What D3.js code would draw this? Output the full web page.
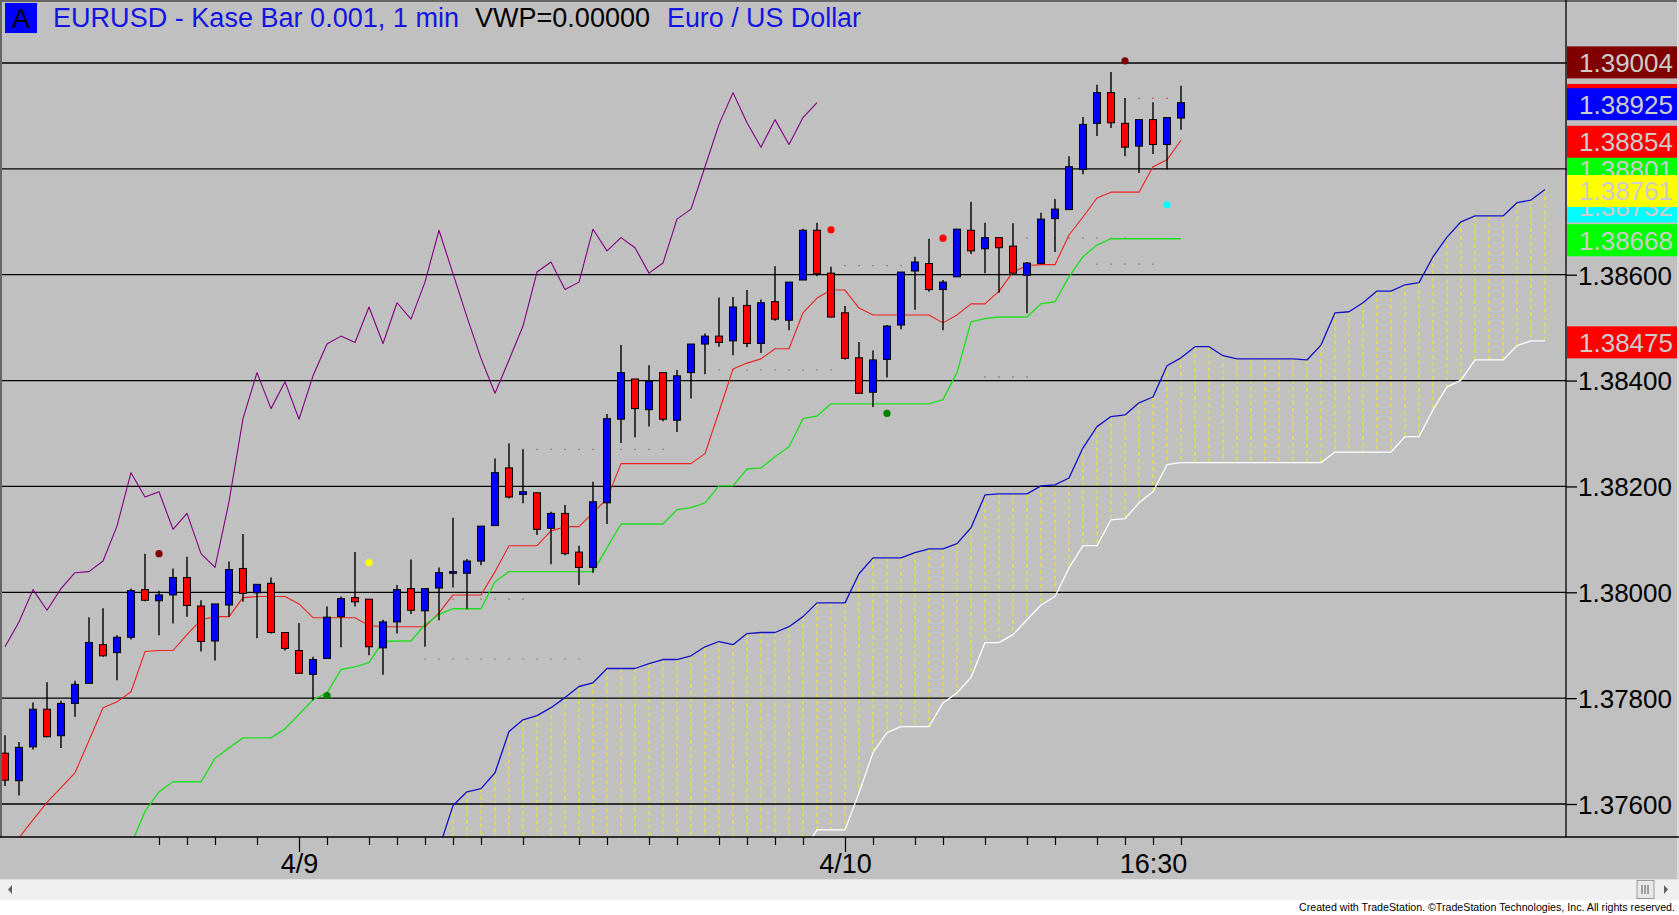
<!DOCTYPE html>
<html><head><meta charset="utf-8">
<script src="https://cdn.jsdelivr.net/npm/d3@7"></script>
<style>html,body{margin:0;padding:0;background:#fff;overflow:hidden}svg{display:block}</style>
</head><body>
<svg id="chart" width="1679" height="915"></svg>
<script>
// ---------- DATA ----------
const barCount = 85;
const opens = [1.37696,1.37644,1.37708,1.37779,1.37729,1.37790,1.37828,1.37901,1.37886,1.37915,
1.38005,1.37984,1.37995,1.38028,1.37974,1.37908,1.37976,1.38045,1.37999,1.38017,
1.37924,1.37890,1.37845,1.37875,1.37954,1.37990,1.37987,1.37895,1.37944,1.38007,
1.37965,1.38008,1.38036,1.38036,1.38059,1.38126,1.38235,1.38185,1.38188,1.38121,
1.38149,1.38076,1.38047,1.38169,1.38327,1.38403,1.38345,1.38415,1.38325,1.38415,
1.38469,1.38484,1.38475,1.38542,1.38470,1.38549,1.38514,1.38590,1.38684,1.38603,
1.38528,1.38443,1.38378,1.38440,1.38505,1.38607,1.38621,1.38572,1.38596,1.38684,
1.38649,1.38670,1.38654,1.38599,1.38621,1.38706,1.38723,1.38799,1.38886,1.38944,
1.38886,1.38843,1.38893,1.38846,1.38896];
const highs = [1.37730,1.37717,1.37792,1.37830,1.37795,1.37833,1.37953,1.37970,1.37919,1.38007,
1.38073,1.38003,1.38045,1.38067,1.37985,1.37978,1.38058,1.38110,1.38015,1.38028,
1.37924,1.37942,1.37878,1.37973,1.37992,1.38076,1.37987,1.37948,1.38014,1.38062,
1.38007,1.38047,1.38141,1.38063,1.38125,1.38253,1.38281,1.38270,1.38188,1.38152,
1.38165,1.38088,1.38209,1.38337,1.38467,1.38403,1.38429,1.38415,1.38420,1.38469,
1.38489,1.38557,1.38558,1.38571,1.38553,1.38616,1.38586,1.38687,1.38698,1.38615,
1.38541,1.38473,1.38457,1.38505,1.38605,1.38634,1.38668,1.38590,1.38687,1.38738,
1.38698,1.38670,1.38697,1.38624,1.38717,1.38743,1.38824,1.38898,1.38959,1.38983,
1.38934,1.38893,1.38926,1.38897,1.38957];
const lows = [1.37634,1.37616,1.37703,1.37726,1.37706,1.37765,1.37828,1.37878,1.37834,1.37911,
1.37983,1.37919,1.37941,1.37954,1.37888,1.37871,1.37954,1.37982,1.37913,1.37922,
1.37890,1.37846,1.37796,1.37875,1.37896,1.37973,1.37881,1.37844,1.37922,1.37959,
1.37897,1.37947,1.38009,1.37968,1.38051,1.38126,1.38177,1.38168,1.38108,1.38053,
1.38070,1.38014,1.38037,1.38129,1.38282,1.38293,1.38313,1.38323,1.38303,1.38366,
1.38412,1.38464,1.38448,1.38463,1.38452,1.38513,1.38495,1.38590,1.38597,1.38519,
1.38440,1.38376,1.38350,1.38406,1.38497,1.38534,1.38568,1.38495,1.38596,1.38639,
1.38603,1.38566,1.38603,1.38527,1.38621,1.38643,1.38723,1.38790,1.38862,1.38877,
1.38824,1.38792,1.38828,1.38799,1.38874];
const closes = [1.37645,1.37707,1.37779,1.37727,1.37790,1.37826,1.37905,1.37880,1.37915,1.38003,
1.37985,1.37995,1.38028,1.37975,1.37907,1.37978,1.38043,1.37998,1.38015,1.37924,
1.37894,1.37847,1.37873,1.37953,1.37988,1.37982,1.37897,1.37944,1.38005,1.37966,
1.38007,1.38037,1.38039,1.38059,1.38125,1.38226,1.38180,1.38190,1.38119,1.38149,
1.38073,1.38047,1.38171,1.38328,1.38415,1.38347,1.38398,1.38327,1.38409,1.38469,
1.38484,1.38472,1.38539,1.38470,1.38547,1.38516,1.38586,1.38684,1.38602,1.38520,
1.38442,1.38376,1.38439,1.38503,1.38605,1.38624,1.38572,1.38586,1.38686,1.38645,
1.38670,1.38651,1.38603,1.38622,1.38705,1.38724,1.38804,1.38884,1.38944,1.38887,
1.38841,1.38893,1.38846,1.38897,1.38925];

// Lagging span (purple), bars 0..58
const laggingSpan = [1.37897,1.37944,1.38005,1.37966,1.38007,1.38037,1.38039,1.38059,1.38125,1.38226,
1.38180,1.38190,1.38119,1.38149,1.38073,1.38047,1.38171,1.38328,1.38415,1.38347,
1.38398,1.38327,1.38409,1.38469,1.38484,1.38472,1.38539,1.38470,1.38547,1.38516,
1.38586,1.38684,1.38602,1.38520,1.38442,1.38376,1.38439,1.38503,1.38605,1.38624,
1.38572,1.38586,1.38686,1.38645,1.38670,1.38651,1.38603,1.38622,1.38705,1.38724,
1.38804,1.38884,1.38944,1.38887,1.38841,1.38893,1.38846,1.38897,1.38925];

// Conversion line (red), bars 0..84
const conversionLine = [1.37504,1.37536,1.37570,1.37603,1.37631,1.37659,1.37720,1.37782,1.37793,1.37812,
1.37888,1.37890,1.37890,1.37920,1.37948,1.37954,1.37954,1.37990,1.37992,1.37992,
1.37992,1.37978,1.37952,1.37952,1.37952,1.37952,1.37937,1.37935,1.37935,1.37935,
1.37935,1.37961,1.37995,1.37995,1.37995,1.38039,1.38088,1.38088,1.38088,1.38116,
1.38124,1.38124,1.38150,1.38177,1.38243,1.38243,1.38243,1.38243,1.38243,1.38243,
1.38262,1.38341,1.38422,1.38433,1.38441,1.38460,1.38460,1.38528,1.38556,1.38571,
1.38571,1.38537,1.38524,1.38524,1.38524,1.38524,1.38524,1.38509,1.38524,1.38545,
1.38545,1.38569,1.38605,1.38617,1.38619,1.38619,1.38675,1.38709,1.38745,1.38756,
1.38756,1.38756,1.38804,1.38817,1.38854];

// Base line (green), starts at bar 9
const baseLineStart = 9;
const baseLine = [1.37523,1.37586,1.37623,1.37642,1.37642,1.37642,1.37686,1.37706,1.37725,1.37725,
1.37725,1.37742,1.37769,1.37797,1.37810,1.37854,1.37859,1.37867,1.37907,1.37908,
1.37908,1.37939,1.37958,1.37969,1.37969,1.37969,1.38020,1.38039,1.38039,1.38039,
1.38039,1.38039,1.38039,1.38039,1.38084,1.38129,1.38129,1.38129,1.38129,1.38156,
1.38160,1.38169,1.38201,1.38201,1.38233,1.38235,1.38256,1.38275,1.38328,1.38333,
1.38356,1.38356,1.38356,1.38356,1.38356,1.38356,1.38356,1.38356,1.38364,1.38415,
1.38511,1.38517,1.38520,1.38520,1.38520,1.38545,1.38549,1.38596,1.38634,1.38656,
1.38668,1.38668,1.38668,1.38668,1.38668,1.38668];

// Leading span A (blue), starts at bar 31
const spanAStart = 31;
const spanA = [1.37516,1.37597,1.37623,1.37629,1.37659,1.37737,1.37759,1.37767,1.37782,1.37801,
1.37822,1.37829,1.37856,1.37856,1.37856,1.37865,1.37873,1.37873,1.37880,1.37897,
1.37907,1.37901,1.37922,1.37924,1.37924,1.37935,1.37954,1.37980,1.37980,1.37980,
1.38035,1.38065,1.38065,1.38065,1.38075,1.38082,1.38082,1.38092,1.38122,1.38184,
1.38186,1.38186,1.38186,1.38201,1.38203,1.38216,1.38273,1.38313,1.38332,1.38335,
1.38358,1.38369,1.38428,1.38443,1.38464,1.38464,1.38447,1.38441,1.38441,1.38441,
1.38441,1.38441,1.38439,1.38467,1.38528,1.38530,1.38547,1.38569,1.38569,1.38581,
1.38585,1.38634,1.38671,1.38700,1.38711,1.38711,1.38711,1.38736,1.38741,1.38761];

// Leading span B (white), starts at bar 57
const spanBStart = 57;
const spanB = [1.37510,1.37551,1.37551,1.37551,1.37621,1.37697,1.37735,1.37746,1.37746,1.37746,
1.37791,1.37810,1.37839,1.37905,1.37905,1.37920,1.37948,1.37976,1.37992,1.38046,
1.38088,1.38088,1.38137,1.38139,1.38169,1.38190,1.38241,1.38245,1.38245,1.38245,
1.38245,1.38245,1.38245,1.38245,1.38245,1.38245,1.38245,1.38245,1.38265,1.38265,
1.38265,1.38265,1.38265,1.38294,1.38294,1.38345,1.38388,1.38401,1.38439,1.38439,
1.38439,1.38466,1.38475,1.38475];

// Swing markers
const markerBars   = [11, 23, 26, 59, 63, 67, 80, 83];
const markerPrices = [1.38073, 1.37805, 1.38056, 1.38685, 1.38338, 1.38669, 1.39004, 1.38732];
const markerColors = ["#800000","#008000","#ffff00","#ff0000","#008000","#ff0000","#800000","#00ffff"];

// Dotted level lines
const levelFrom  = [37, 51, 60, 73, 78, 81, 32, 30, 70];
const levelTo    = [47, 59, 64, 80, 82, 83, 37, 41, 73];
const levelPrice = [1.38270, 1.38420, 1.38617, 1.38669, 1.38620, 1.38933, 1.37987, 1.37874, 1.38407];

// Axes
const priceTicks = [1.376, 1.378, 1.380, 1.382, 1.384, 1.386, 1.388, 1.390];
const timeTickBars = [11,13,15,18,21,23,26,28,30,32,34,37,41,43,46,48,51,53,55,57,60,62,65,67,70,73,75,78,80,82,84];
const timeLabelBars = [21, 60, 82];
const timeLabels = ["4/9", "4/10", "16:30"];

// Last-value tags on the price axis (drawn in this order); the first one is hidden under the blue tag
const tagValues = [1.38933, 1.38925, 1.39004, 1.38801, 1.38854, 1.38732, 1.38761, 1.38668, 1.38475];
const tagColors = ["#ff0000","#0000ff","#800000","#00ff00","#ff0000","#00ffff","#ffff00","#00ff00","#ff0000"];
const tagShowText = [false, true, true, true, true, true, true, true, true];

const titleParts = ["EURUSD - Kase Bar 0.001, 1 min", "VWP=0.00000", "Euro / US Dollar"];

// ---------- DRAW ----------
const svg = d3.select("#chart");
const FONT = "'Liberation Sans', Arial, Helvetica, sans-serif";
const P = {left: 2, right: 1566, top: 2, bottom: 837};

const x = d3.scaleLinear().domain([0, 110]).range([5, 1545]);
const y = d3.scaleLinear().domain([1.376, 1.390]).range([804, 63]);

// backgrounds
svg.append("rect").attr("x",0).attr("y",0).attr("width",1679).attr("height",879).attr("fill","#c0c0c0");
svg.append("rect").attr("x",0).attr("y",879).attr("width",1679).attr("height",21).attr("fill","#f0f0f0");
svg.append("rect").attr("x",0).attr("y",900).attr("width",1679).attr("height",15).attr("fill","#ffffff");

const defs = svg.append("defs");
defs.append("clipPath").attr("id","plotclip").append("rect")
  .attr("x",P.left).attr("y",P.top).attr("width",P.right-P.left).attr("height",P.bottom-P.top);

const plot = svg.append("g").attr("clip-path","url(#plotclip)");

// cloud vertical dashes
const dashBars = d3.range(spanAStart + 1, spanAStart + spanA.length);
plot.append("g").selectAll("line").data(dashBars).join("line")
  .attr("x1", d => x(d)).attr("x2", d => x(d))
  .attr("y1", d => y(spanA[d - spanAStart]))
  .attr("y2", d => (d >= spanBStart ? y(spanB[d - spanBStart]) : P.bottom))
  .attr("stroke","#f4f000").attr("stroke-width",1).attr("stroke-dasharray","4 3");

// grid
plot.append("g").selectAll("line").data(priceTicks).join("line")
  .attr("x1",P.left).attr("x2",P.right)
  .attr("y1",d=>y(d)).attr("y2",d=>y(d))
  .attr("stroke","#000").attr("stroke-width",1.3);

// dotted level lines
plot.append("g").selectAll("line").data(levelPrice).join("line")
  .attr("x1",(d,i)=>x(levelFrom[i])-1).attr("x2",(d,i)=>x(levelTo[i])+1)
  .attr("y1",d=>y(d)).attr("y2",d=>y(d))
  .attr("stroke",(d,i)=> i===5 ? "#d06060" : "#9a8080").attr("stroke-width",1.2)
  .attr("stroke-dasharray","2 12");

// lines
function series(vals, start){ return vals.map((v,i)=>[start+i, v]); }
const line = d3.line().x(d=>x(d[0])).y(d=>y(d[1]));
function drawLine(vals, start, color, w){
  plot.append("path").datum(series(vals,start)).attr("d",line)
    .attr("fill","none").attr("stroke",color).attr("stroke-width",w).attr("stroke-linejoin","round");
}
drawLine(spanB, spanBStart, "#ffffff", 1.3);
drawLine(spanA, spanAStart, "#1010c8", 1.3);
drawLine(laggingSpan, 0, "#800080", 1.1);
drawLine(conversionLine, 0, "#ee2020", 1.1);
drawLine(baseLine, baseLineStart, "#22dd22", 1.4);

// candles
const bars = d3.range(barCount);
const cg = plot.append("g");
cg.selectAll("line").data(bars).join("line")
  .attr("x1",i=>x(i)).attr("x2",i=>x(i))
  .attr("y1",i=>y(highs[i])).attr("y2",i=>y(lows[i]))
  .attr("stroke","#000").attr("stroke-width",1.4);
cg.selectAll("rect").data(bars).join("rect")
  .attr("x",i=>x(i)-3.5).attr("width",7)
  .attr("y",i=>y(Math.max(opens[i],closes[i])))
  .attr("height",i=>Math.max(1.5, Math.abs(y(opens[i])-y(closes[i]))))
  .attr("fill",i=> closes[i] >= opens[i] ? "#0000ff" : "#ff0000")
  .attr("stroke","#000").attr("stroke-width",1);

// markers
plot.append("g").selectAll("circle").data(markerBars).join("circle")
  .attr("cx",d=>x(d)).attr("cy",(d,i)=>y(markerPrices[i])).attr("r",3.6)
  .attr("fill",(d,i)=>markerColors[i]);

// frame lines
svg.append("line").attr("x1",0).attr("x2",1679).attr("y1",1).attr("y2",1).attr("stroke","#666").attr("stroke-width",2);
svg.append("line").attr("x1",1).attr("x2",1).attr("y1",0).attr("y2",P.bottom).attr("stroke","#666").attr("stroke-width",2);
svg.append("line").attr("x1",P.right).attr("x2",P.right).attr("y1",0).attr("y2",P.bottom).attr("stroke","#000").attr("stroke-width",1.3);
svg.append("rect").attr("x",1677).attr("y",0).attr("width",2).attr("height",879).attr("fill","#dcdcdc");

// price axis
const yAxis = d3.axisRight(y).tickValues(priceTicks).tickSize(11).tickPadding(1).tickFormat(d3.format(".5f"));
const ya = svg.append("g").attr("transform",`translate(${P.right},0)`).call(yAxis);
ya.select(".domain").remove();
ya.selectAll(".tick line").attr("stroke","#000").attr("stroke-width",1.3);
ya.selectAll(".tick text").attr("font-family",FONT).attr("font-size",26).attr("fill","#000").attr("dy","0.36em");

// value tags
const tags = svg.append("g");
tagValues.forEach((v,i)=>{
  const cy = y(v) + 1.5;
  tags.append("rect").attr("x",P.right+1).attr("y",cy-16).attr("width",110).attr("height",32).attr("fill",tagColors[i]);
  if (tagShowText[i]) {
    tags.append("text").attr("x",1673).attr("y",cy+9.5).attr("text-anchor","end")
      .attr("font-family",FONT).attr("font-size",26).attr("fill","#cccccc").text(d3.format(".5f")(v));
  }
});

// time axis
svg.append("line").attr("x1",0).attr("x2",1679).attr("y1",P.bottom).attr("y2",P.bottom).attr("stroke","#000").attr("stroke-width",1.5);
const xAxis = d3.axisBottom(x).tickValues(timeTickBars).tickSize(8)
  .tickFormat(d => { const k = timeLabelBars.indexOf(d); return k >= 0 ? timeLabels[k] : ""; });
const xa = svg.append("g").attr("transform",`translate(0,${P.bottom})`).call(xAxis);
xa.select(".domain").remove();
xa.selectAll(".tick line").attr("stroke","#000").attr("stroke-width",1.2)
  .attr("y2", d => (d === timeLabelBars[0] || d === timeLabelBars[1]) ? 15 : 8);
xa.selectAll(".tick text").attr("font-family",FONT).attr("font-size",27).attr("fill","#000")
  .attr("y",36).attr("dy",0);

// title
svg.append("rect").attr("x",5).attr("y",3).attr("width",32).attr("height",30).attr("fill","#0000ff");
svg.append("text").attr("x",21).attr("y",28).attr("text-anchor","middle").attr("font-family",FONT)
  .attr("font-size",27).attr("fill","#000").text("A");
const titleX = [53, 475, 667];
const titleW = [406, 175, 194];
const titleC = ["#1414e0", "#000000", "#1414e0"];
titleParts.forEach((t,i)=>{
  svg.append("text").attr("x",titleX[i]).attr("y",27).attr("font-family",FONT).attr("font-size",27)
    .attr("fill",titleC[i]).attr("textLength",titleW[i]).attr("lengthAdjust","spacingAndGlyphs").text(t);
});

// scrollbar
svg.append("line").attr("x1",0).attr("x2",1679).attr("y1",879.5).attr("y2",879.5).attr("stroke","#e2e2e2");
svg.append("path").attr("d","M12,885 L8,889.5 L12,894 Z").attr("fill","#606060");
svg.append("path").attr("d","M1664,885 L1668,889.5 L1664,894 Z").attr("fill","#606060");
svg.append("rect").attr("x",1637).attr("y",880.5).attr("width",17).attr("height",18).attr("fill","#e8e8e8").attr("stroke","#9a9a9a");
[1642,1645,1648].forEach(gx=>svg.append("line").attr("x1",gx).attr("x2",gx).attr("y1",885).attr("y2",894).attr("stroke","#555"));

// footer
svg.append("text").attr("x",1675).attr("y",910.5).attr("text-anchor","end").attr("font-family",FONT)
  .attr("font-size",10.5).attr("fill","#000").attr("textLength",376).attr("lengthAdjust","spacingAndGlyphs")
  .text("Created with TradeStation. \u00A9TradeStation Technologies, Inc. All rights reserved.");
</script>
</body></html>
